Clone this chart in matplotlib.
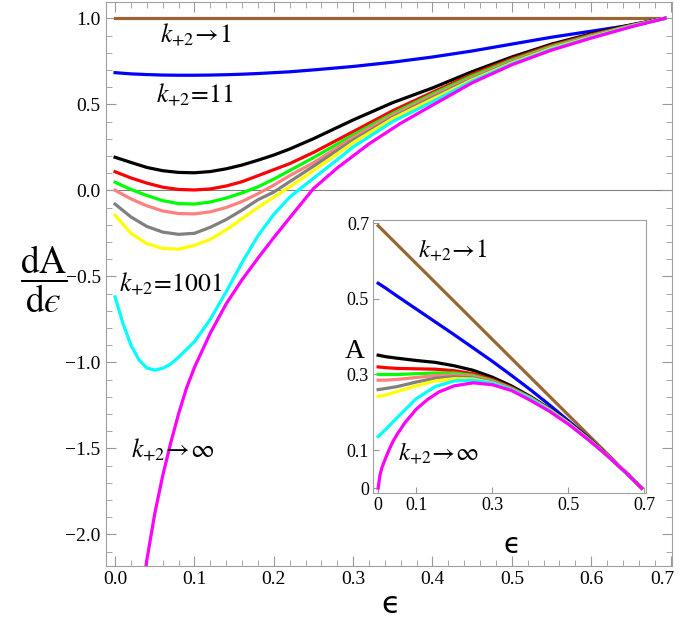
import numpy as np
import matplotlib
matplotlib.use('Agg')
import matplotlib.pyplot as plt
from matplotlib.ticker import MultipleLocator
from matplotlib.transforms import ScaledTranslation

plt.rcParams['font.family'] = ['Liberation Serif', 'DejaVu Serif']
plt.rcParams['mathtext.fontset'] = 'stix'

# main panel: dA/de
eps = [0, 0.02, 0.04, 0.06, 0.08, 0.1, 0.12, 0.14, 0.16, 0.18, 0.2, 0.22,
       0.25, 0.3, 0.35, 0.4, 0.45, 0.5, 0.55, 0.6, 0.65, 0.693]
brown = [1.0] * 22
blue = [0.684, 0.677, 0.673, 0.670, 0.669, 0.669, 0.670, 0.672, 0.675, 0.679, 0.684, 0.689,
        0.700, 0.720, 0.745, 0.775, 0.810, 0.850, 0.890, 0.925, 0.960, 1.0]
black = [0.192, 0.162, 0.133, 0.114, 0.104, 0.102, 0.109, 0.125, 0.147, 0.175, 0.205, 0.240,
         0.300, 0.409, 0.510, 0.595, 0.690, 0.775, 0.850, 0.910, 0.962, 1.0]
red = [0.108, 0.072, 0.042, 0.018, 0.005, 0.002, 0.008, 0.025, 0.050, 0.085, 0.120, 0.155,
       0.220, 0.341, 0.463, 0.570, 0.675, 0.765, 0.843, 0.905, 0.959, 1.0]
green = [0.047, 0.005, -0.030, -0.060, -0.077, -0.080, -0.068, -0.045, -0.015, 0.020, 0.065, 0.115,
         0.190, 0.322, 0.447, 0.560, 0.665, 0.757, 0.837, 0.900, 0.957, 1.0]
pink = [0.000, -0.050, -0.090, -0.120, -0.135, -0.137, -0.125, -0.100, -0.065, -0.020, 0.030, 0.085,
        0.160, 0.308, 0.437, 0.550, 0.655, 0.750, 0.832, 0.897, 0.955, 1.0]
gray = [-0.080, -0.155, -0.210, -0.243, -0.256, -0.250, -0.215, -0.170, -0.115, -0.055, -0.010, 0.050,
        0.140, 0.292, 0.425, 0.540, 0.648, 0.745, 0.828, 0.894, 0.954, 1.0]
yellow = [-0.145, -0.250, -0.310, -0.338, -0.342, -0.320, -0.285, -0.230, -0.165, -0.100, -0.040, 0.020,
          0.115, 0.277, 0.417, 0.530, 0.642, 0.740, 0.825, 0.891, 0.953, 1.0]

cyan_eps = [0, 0.01, 0.02, 0.03, 0.04, 0.05, 0.06, 0.07, 0.08, 0.1, 0.12, 0.14, 0.16, 0.18,
            0.2, 0.22, 0.25, 0.28, 0.3, 0.35, 0.4, 0.45, 0.5, 0.55, 0.6, 0.65, 0.693]
cyan = [-0.620, -0.775, -0.900, -0.985, -1.033, -1.045, -1.035, -1.010, -0.970, -0.880, -0.750,
        -0.590, -0.420, -0.265, -0.140, -0.040, 0.070, 0.178, 0.252, 0.400, 0.515, 0.635, 0.735,
        0.820, 0.888, 0.952, 1.0]

mag_eps = [0.033, 0.04, 0.05, 0.06, 0.07, 0.08, 0.09, 0.1, 0.12, 0.14, 0.16, 0.18, 0.2, 0.22,
           0.25, 0.28, 0.32, 0.36, 0.4, 0.45, 0.5, 0.55, 0.6, 0.65, 0.693]
magenta = [-2.37, -2.15, -1.88, -1.66, -1.47, -1.30, -1.15, -1.03, -0.83, -0.66, -0.52, -0.395,
           -0.275, -0.16, 0.01, 0.13, 0.27, 0.39, 0.495, 0.625, 0.73, 0.815, 0.885, 0.95, 1.0]

# inset: A(e)
eps_in = [0, 0.02, 0.05, 0.1, 0.15, 0.2, 0.25, 0.3, 0.35, 0.4, 0.45, 0.5, 0.55, 0.6, 0.65, 0.693]
A_brown = [0.693, 0.673, 0.643, 0.593, 0.543, 0.493, 0.443, 0.393, 0.343, 0.293, 0.243, 0.193,
           0.143, 0.093, 0.043, 0.0]
A_blue = [0.541, 0.528, 0.507, 0.473, 0.439, 0.405, 0.370, 0.335, 0.298, 0.260, 0.220, 0.178,
          0.135, 0.089, 0.042, 0.0]
A_black = [0.351, 0.347, 0.343, 0.337, 0.332, 0.323, 0.311, 0.293, 0.270, 0.242, 0.210, 0.174,
           0.133, 0.089, 0.042, 0.0]
A_red = [0.320, 0.318, 0.316, 0.315, 0.314, 0.310, 0.302, 0.287, 0.266, 0.240, 0.209, 0.173,
         0.132, 0.089, 0.042, 0.0]
A_green = [0.300, 0.300, 0.300, 0.302, 0.304, 0.304, 0.298, 0.284, 0.264, 0.239, 0.208, 0.172,
           0.132, 0.088, 0.042, 0.0]
A_pink = [0.285, 0.285, 0.287, 0.292, 0.297, 0.299, 0.295, 0.282, 0.263, 0.238, 0.207, 0.172,
          0.131, 0.088, 0.042, 0.0]
A_gray = [0.260, 0.263, 0.268, 0.280, 0.290, 0.294, 0.291, 0.280, 0.262, 0.237, 0.206, 0.171,
          0.131, 0.088, 0.042, 0.0]
A_yellow = [0.242, 0.246, 0.255, 0.270, 0.283, 0.289, 0.288, 0.278, 0.260, 0.236, 0.206, 0.171,
            0.131, 0.088, 0.042, 0.0]
A_cyan = [0.136, 0.155, 0.186, 0.236, 0.268, 0.283, 0.285, 0.277, 0.260, 0.236, 0.205, 0.170,
          0.130, 0.088, 0.042, 0.0]
mag_eps_in = [0, 0.005, 0.01, 0.02, 0.03, 0.04, 0.05, 0.07, 0.1, 0.13, 0.16, 0.2, 0.25, 0.3,
              0.35, 0.4, 0.45, 0.5, 0.55, 0.6, 0.65, 0.693]
A_magenta = [0.0, 0.035, 0.054, 0.080, 0.104, 0.125, 0.142, 0.172, 0.208, 0.234, 0.254, 0.270,
             0.278, 0.273, 0.258, 0.232, 0.203, 0.169, 0.130, 0.088, 0.042, 0.0]

x_ticks = [0, 0.1, 0.2, 0.3, 0.4, 0.5, 0.6, 0.7]
x_labels = ['0.0', '0.1', '0.2', '0.3', '0.4', '0.5', '0.6', '0.7']

c_brown = '#996633'
c_pink = '#ff8080'
lw = 2.3

fig = plt.figure(figsize=(6.81, 6.34), dpi=100)
ax = fig.add_axes([0.155, 0.1073, 0.832, 0.8896])

ax.axhline(0, color='#808080', lw=0.8, zorder=1)
ax.plot(eps, brown, color=c_brown, lw=lw)
ax.plot(eps, blue, color='blue', lw=lw)
ax.plot(eps, black, color='black', lw=lw)
ax.plot(eps, red, color='red', lw=lw)
ax.plot(eps, green, color='#00ff00', lw=lw)
ax.plot(eps, pink, color=c_pink, lw=lw)
ax.plot(eps, gray, color='#808080', lw=lw)
ax.plot(eps, yellow, color='yellow', lw=lw)
ax.plot(cyan_eps, cyan, color='cyan', lw=lw)
ax.plot(mag_eps, magenta, color='magenta', lw=lw)

ax.set_xlim(-0.012, 0.702)
ax.set_ylim(-2.184, 1.095)
ax.set_xticks(x_ticks)
ax.set_xticklabels(x_labels)
ax.xaxis.set_minor_locator(MultipleLocator(0.02))
ax.yaxis.set_major_locator(MultipleLocator(0.5))
ax.yaxis.set_minor_locator(MultipleLocator(0.1))
ax.yaxis.set_major_formatter(plt.FuncFormatter(
    lambda v, p: f'{v:.1f}' if v >= -0.01 else '\u2212' + f'{abs(v):.1f}'))
ax.tick_params(which='both', direction='in', top=True, right=True, color='#999999', labelsize=14)
ax.tick_params(which='major', length=7, width=0.8)
ax.tick_params(which='minor', length=4, width=0.6)
for s in ax.spines.values():
    s.set_color('#a0a0a0')
# nudge the last x label so it stays inside the picture
last = ax.get_xticklabels()[-1]
last.set_transform(last.get_transform() + ScaledTranslation(-6 / 72, 0, fig.dpi_scale_trans))

mt = dict(fontsize=18.5, ha='center', va='center')
ax.text(0.102, 0.903, r'$k_{+2}\!\rightarrow\!1$', **mt)
ax.text(0.101, 0.554, r'$k_{+2}\!=\!11$', **mt)
ax.text(0.07, -0.545, r'$k_{+2}\!=\!1001$', **mt)
ax.text(0.0725, -1.51, r'$k_{+2}\!\rightarrow\!\infty$', **mt)

fig.text(0.064, 0.56, '$\\dfrac{\\mathrm{dA}}{\\mathrm{d}\u03f5}$', fontsize=27, ha='center', va='center')
fig.text(0.574, 0.046, '\u03f5', family='DejaVu Sans', fontsize=22, ha='center', va='center')

# inset
ins = fig.add_axes([0.548, 0.2224, 0.401, 0.4306])
ins.plot(eps_in, A_brown, color=c_brown, lw=lw)
ins.plot(eps_in, A_blue, color='blue', lw=lw)
ins.plot(eps_in, A_black, color='black', lw=lw)
ins.plot(eps_in, A_red, color='red', lw=lw)
ins.plot(eps_in, A_green, color='#00ff00', lw=lw)
ins.plot(eps_in, A_pink, color=c_pink, lw=lw)
ins.plot(eps_in, A_gray, color='#808080', lw=lw)
ins.plot(eps_in, A_yellow, color='yellow', lw=lw)
ins.plot(eps_in, A_cyan, color='cyan', lw=lw)
ins.plot(mag_eps_in, A_magenta, color='magenta', lw=lw)
ins.set_xlim(-0.013, 0.705)
ins.set_ylim(-0.013, 0.708)
ins.set_xticks([0, 0.1, 0.3, 0.5, 0.7])
ins.set_xticklabels(['0', '0.1', '0.3', '0.5', '0.7'])
ins.set_yticks([0, 0.1, 0.3, 0.5, 0.7])
ins.set_yticklabels(['0', '0.1', '0.3', '0.5', '0.7'])
ins.tick_params(direction='in', length=4, color='#999999', labelsize=13, pad=3)
for s in ins.spines.values():
    s.set_color('#a0a0a0')
it = dict(fontsize=18, ha='center', va='center')
ins.text(0.195, 0.629, r'$k_{+2}\!\rightarrow\!1$', **it)
ins.text(0.158, 0.092, r'$k_{+2}\!\rightarrow\!\infty$', **it)
fig.text(0.521, 0.445, 'A', fontsize=20, ha='center', va='center')
fig.text(0.752, 0.140, '\u03f5', family='DejaVu Sans', fontsize=20, ha='center', va='center')

fig.savefig('out.png', dpi=100)
